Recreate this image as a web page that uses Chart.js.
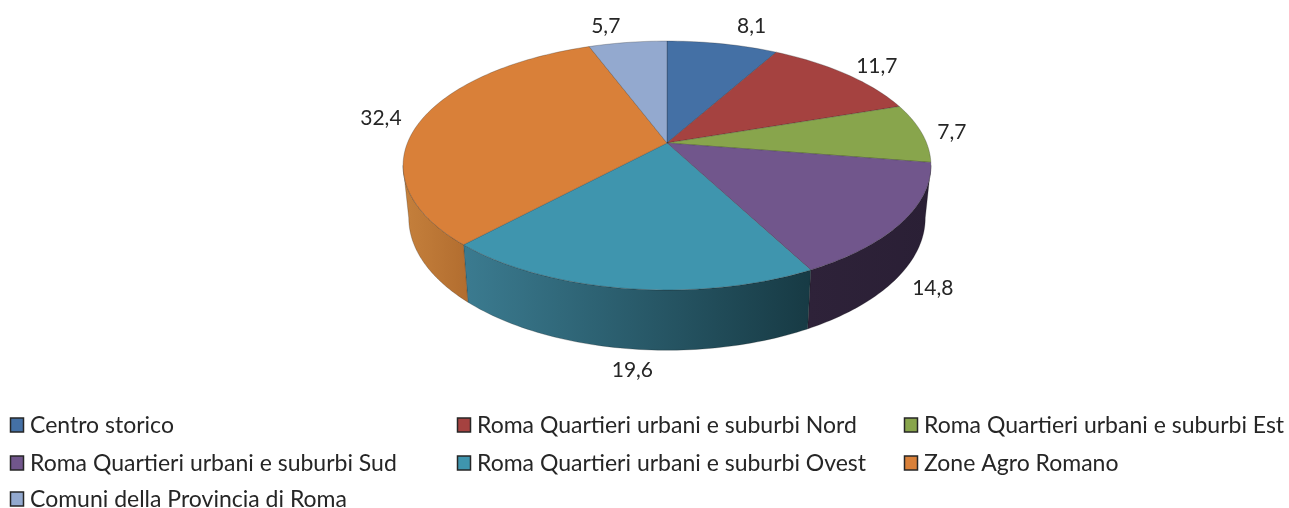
<!DOCTYPE html>
<html>
<head>
<meta charset="utf-8">
<style>html,body{margin:0;padding:0;background:#fff}canvas{display:block}</style>
<script src="https://cdn.jsdelivr.net/npm/chart.js@4"></script>
</head>
<body>
<canvas id="c" width="1289" height="508"></canvas>
<script>
const categories = ["Centro storico","Roma Quartieri urbani e suburbi Nord","Roma Quartieri urbani e suburbi Est","Roma Quartieri urbani e suburbi Sud","Roma Quartieri urbani e suburbi Ovest","Zone Agro Romano","Comuni della Provincia di Roma"];
const values = [8.1,11.7,7.7,14.8,19.6,32.4,5.7];
const colors = ["#4470a5","#a54240","#88a54c","#71568c","#3f95ae","#d98039","#93a9cf"];
const wallLeft = ["#34557d","#7d3230","#67803a","#2e2239","#3b7b90","#c5803c","#6f80a0"];
const wallRight = ["#34557d","#7d3230","#67803a","#2a1f35","#173a44","#b26d2f","#6f80a0"];

const CX = 667, K = 0.1807;
const top_ = {y0:143, A:259.6, B:120.4};
const bot = {y0:194, A:254, B:128};
const VIS_A = 100.4*Math.PI/180, VIS_B = 259.6*Math.PI/180;
function proj(p,t){const u=Math.sin(t),v=Math.cos(t),w=1+K*v;return [CX+p.A*u/w,p.y0-p.B*v/w];}
const nudges = [[29,-18],[31,-8],[30,-1],[30,67],[7,82],[-40,-2],[-22,-16]];

const pie3d = {
  id:'pie3d',
  beforeDatasetsDraw(chart){
    const ctx = chart.ctx;
    const arcs = chart.getDatasetMeta(0).data;
    const ang = a=>[a.startAngle+Math.PI/2,a.endAngle+Math.PI/2];
    // side walls
    arcs.forEach((a,i)=>{
      let [s,e]=ang(a);
      s=Math.max(s,VIS_A);e=Math.min(e,VIS_B);
      if(e<=s)return;
      const pts=[],n=60;
      for(let j=0;j<=n;j++)pts.push(proj(top_,s+(e-s)*j/n));
      for(let j=n;j>=0;j--)pts.push(proj(bot,s+(e-s)*j/n));
      const xs=pts.map(p=>p[0]);
      const g=ctx.createLinearGradient(Math.min(...xs),0,Math.max(...xs),0);
      g.addColorStop(0,wallLeft[i]);g.addColorStop(1,wallRight[i]);
      ctx.beginPath();pts.forEach((p,j)=>j?ctx.lineTo(p[0],p[1]):ctx.moveTo(p[0],p[1]));ctx.closePath();
      ctx.fillStyle=g;ctx.fill();
      ctx.strokeStyle='rgba(20,20,20,.3)';ctx.lineWidth=.75;ctx.stroke();
    });
    // top faces
    arcs.forEach((a,i)=>{
      const [s,e]=ang(a);
      const n=Math.max(8,Math.ceil((e-s)*40));
      ctx.beginPath();ctx.moveTo(CX,top_.y0);
      for(let j=0;j<=n;j++){const p=proj(top_,s+(e-s)*j/n);ctx.lineTo(p[0],p[1]);}
      ctx.closePath();
      ctx.fillStyle=chart.data.datasets[0].backgroundColor[i];ctx.fill();
      ctx.strokeStyle='rgba(30,30,30,.35)';ctx.lineWidth=.75;ctx.stroke();
    });
    // value labels
    ctx.font='21px Lato';ctx.fillStyle='#262626';ctx.textAlign='center';ctx.textBaseline='middle';
    arcs.forEach((a,i)=>{
      const [s,e]=ang(a);
      const p=proj(top_,(s+e)/2);
      ctx.fillText(String(chart.data.datasets[0].data[i]).replace('.',','),p[0]+nudges[i][0],p[1]+nudges[i][1]);
    });
    return false;
  },
  afterDraw(chart){
    const ctx=chart.ctx;
    const colX=[10,457,904], rowY=[425,463,499];
    ctx.font='23px Lato';ctx.textAlign='left';ctx.textBaseline='middle';
    chart.data.labels.forEach((lab,i)=>{
      const x=colX[i%3],y=rowY[Math.floor(i/3)];
      ctx.fillStyle=chart.data.datasets[0].backgroundColor[i];
      ctx.fillRect(x+.5,y-7,13,14);
      ctx.strokeStyle='#262626';ctx.lineWidth=1.5;ctx.strokeRect(x+.5,y-7,13,14);
      ctx.fillStyle='#262626';
      ctx.fillText(lab,x+20,y+1);
    });
  }
};

new Chart(document.getElementById('c'),{
  type:'pie',
  data:{labels:categories,datasets:[{data:values,backgroundColor:colors,borderWidth:0}]},
  options:{responsive:false,animation:false,plugins:{legend:{display:false},tooltip:{enabled:false},title:{display:false}}},
  plugins:[pie3d]
});
</script>
</body>
</html>
